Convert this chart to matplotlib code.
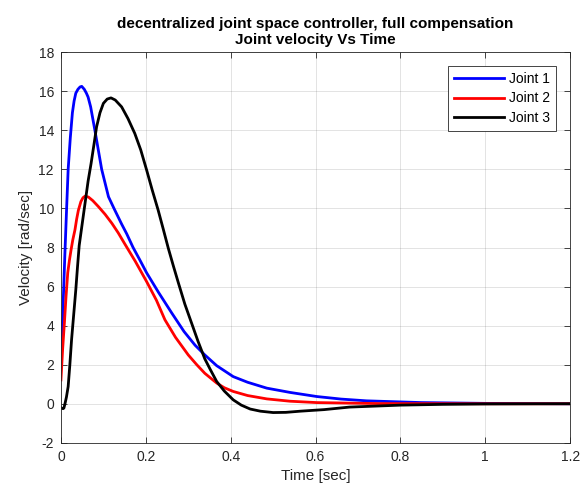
import matplotlib
matplotlib.use('Agg')
import matplotlib.pyplot as plt

plt.rcParams['font.family'] = ['Liberation Sans', 'DejaVu Sans']
plt.rcParams['axes.unicode_minus'] = False

# joint velocities (time in sec, velocity in rad/sec)
t1 = [0, 0.002, 0.005, 0.009, 0.013, 0.017, 0.022, 0.027, 0.031, 0.035, 0.040,
      0.045, 0.049, 0.055, 0.060, 0.064, 0.070, 0.080, 0.088, 0.096, 0.104,
      0.112, 0.125, 0.143, 0.155, 0.170, 0.185, 0.202, 0.230, 0.261, 0.290,
      0.316, 0.339, 0.367, 0.406, 0.440, 0.485, 0.540, 0.603, 0.660, 0.720,
      0.850, 1.0, 1.2]
v1 = [1.9, 3.2, 5.0, 7.5, 9.8, 12.0, 13.6, 14.9, 15.5, 15.9, 16.1,
      16.22, 16.25, 16.1, 15.9, 15.7, 15.2, 14.0, 13.0, 12.0, 11.3,
      10.6, 10.0, 9.2, 8.7, 8.0, 7.4, 6.7, 5.7, 4.65, 3.7,
      3.0, 2.5, 1.95, 1.39, 1.1, 0.8, 0.58, 0.37, 0.24, 0.15,
      0.06, 0.02, 0.0]

t2 = [0, 0.004, 0.008, 0.012, 0.016, 0.020, 0.024, 0.028, 0.033, 0.037, 0.041,
      0.047, 0.052, 0.057, 0.065, 0.075, 0.088, 0.104, 0.120, 0.135, 0.150,
      0.175, 0.202, 0.225, 0.245, 0.270, 0.300, 0.320, 0.339, 0.367, 0.385,
      0.406, 0.440, 0.485, 0.540, 0.603, 0.750, 1.0, 1.2]
v2 = [1.22, 2.8, 4.1, 5.5, 6.7, 7.35, 7.9, 8.4, 8.9, 9.45, 9.9,
      10.35, 10.55, 10.63, 10.58, 10.4, 10.1, 9.7, 9.24, 8.75, 8.2,
      7.3, 6.25, 5.3, 4.3, 3.4, 2.5, 2.0, 1.56, 1.06, 0.82,
      0.63, 0.42, 0.25, 0.13, 0.06, 0.01, 0.0, 0.0]

t3 = [0, 0.002, 0.005, 0.007, 0.010, 0.013, 0.017, 0.021, 0.025, 0.030, 0.035,
      0.039, 0.043, 0.050, 0.057, 0.064, 0.071, 0.078, 0.084, 0.092, 0.100,
      0.109, 0.118, 0.128, 0.143, 0.158, 0.174, 0.188, 0.202, 0.215, 0.229,
      0.241, 0.253, 0.265, 0.277, 0.292, 0.308, 0.323, 0.339, 0.352, 0.367,
      0.385, 0.406, 0.425, 0.446, 0.470, 0.500, 0.530, 0.564, 0.620, 0.680,
      0.740, 0.800, 0.900, 1.0, 1.2]
v3 = [-0.2, -0.23, -0.25, -0.22, 0.05, 0.35, 0.88, 2.0, 3.27, 4.55, 5.83,
      7.0, 8.1, 9.2, 10.3, 11.4, 12.3, 13.3, 14.18, 14.9, 15.38,
      15.6, 15.66, 15.55, 15.2, 14.6, 13.84, 13.0, 11.96, 10.95, 9.92,
      8.95, 7.96, 7.05, 6.17, 5.1, 4.12, 3.2, 2.3, 1.75, 1.14,
      0.65, 0.2, -0.07, -0.27, -0.38, -0.45, -0.44, -0.38, -0.3, -0.17,
      -0.12, -0.07, -0.03, -0.01, 0.0]

labels = ['Joint 1', 'Joint 2', 'Joint 3']
colors = ['#0000ff', '#ff0000', '#000000']

xticks = [0, 0.2, 0.4, 0.6, 0.8, 1.0, 1.2]
xticklabels = ['0', '0.2', '0.4', '0.6', '0.8', '1', '1.2']
yticks = list(range(-2, 19, 2))

fig = plt.figure(figsize=(5.86, 4.97), dpi=100)
ax = fig.add_axes([0.104, 0.109, 0.869, 0.786])

for t, v, lab, c in zip([t1, t2, t3], [v1, v2, v3], labels, colors):
    ax.plot(t, v, color=c, lw=2, label=lab)

ax.set_xlim(0, 1.2); ax.set_ylim(-2, 18)
ax.set_xticks(xticks); ax.set_xticklabels(xticklabels)
ax.set_yticks(yticks)
ax.grid(True, color='#262626', alpha=0.15, lw=0.6)
ax.tick_params(direction='in', length=4, width=0.6, top=True, right=True,
               labelsize=10, colors='#262626', labelcolor='#262626', pad=5)
for s in ax.spines.values():
    s.set_color('#262626'); s.set_linewidth(0.6)

ax.set_xlabel('Time [sec]', fontsize=11, color='#262626')
ax.set_ylabel('Velocity [rad/sec]', fontsize=11, color='#262626')
ax.set_title('decentralized joint space controller, full compensation\nJoint velocity Vs Time',
             fontsize=11, fontweight='bold', linespacing=1.15, pad=6)

leg = ax.legend(loc='upper right', bbox_to_anchor=(0.972, 0.965), fontsize=10,
                fancybox=False, framealpha=1, edgecolor='#262626',
                handlelength=3.6, handletextpad=0.3, borderpad=0.45,
                labelspacing=0.38, borderaxespad=0)
leg.get_frame().set_linewidth(0.6)

fig.savefig('out.png', dpi=100)
